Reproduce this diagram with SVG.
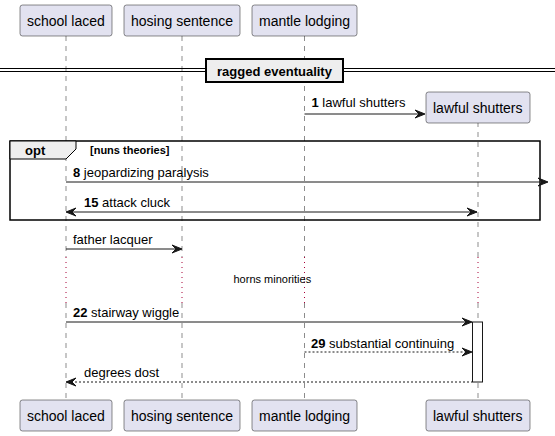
<svg xmlns="http://www.w3.org/2000/svg" width="555" height="436" viewBox="0 0 555 436">
<style>
.part{fill:#E2E2F0;stroke:#181818;stroke-width:0.5}
.ptxt{font-family:"Liberation Sans",Arial,sans-serif;font-size:14px;fill:#000}
.life{stroke:#181818;stroke-width:0.5;stroke-dasharray:5,5;fill:none}
.delay{stroke:#A80036;stroke-width:1;stroke-dasharray:1,4;fill:none}
.msg{stroke:#181818;stroke-width:1;fill:none}
.dash{stroke-dasharray:2,2}
.head{fill:#181818;stroke:#181818;stroke-width:1}
.mtxt{font-family:"Liberation Sans",Arial,sans-serif;font-size:13px;fill:#000}
.b{font-weight:bold}
</style>
<rect width="555" height="436" fill="#FFFFFF"/>
<g id="lifelines">
<path class="life" d="M66,36V257M66,303V400"/>
<path class="life" d="M182,36V257M182,303V400"/>
<path class="life" d="M304.5,36V257M304.5,303V400"/>
<path class="life" d="M478,122V257M478,303V400"/>
<path class="delay" d="M66,257V303M182,257V303M304.5,257V303M478,257V303"/>
</g>
<g id="divider">
<line x1="0" y1="68.5" x2="555" y2="68.5" stroke="#000" stroke-width="1"/>
<line x1="0" y1="71.5" x2="555" y2="71.5" stroke="#000" stroke-width="1"/>
<rect x="206" y="59" width="137" height="23" fill="#EEEEEE" stroke="#000" stroke-width="2"/>
<text x="274.5" y="75.5" text-anchor="middle" class="mtxt b">ragged eventuality</text>
</g>
<g id="frame-opt">
<rect x="10" y="141" width="530" height="79" fill="none" stroke="#000" stroke-width="1.5"/>
<polygon points="10,141 76,141 76,149 66,159 10,159" fill="#EEEEEE" stroke="#000" stroke-width="1"/>
<text x="25" y="155" class="mtxt b">opt</text>
<text x="90" y="154" font-family="'Liberation Sans',Arial,sans-serif" font-size="11" font-weight="bold">[nuns theories]</text>
</g>
<g id="activation">
<rect x="472.5" y="322" width="10" height="60" fill="#FFFFFF" stroke="#181818" stroke-width="1"/>
</g>
<g id="connectors">
<line class="msg" x1="304.5" y1="114" x2="424" y2="114"/>
<polygon class="head" points="415,110 425,114 415,118 419,114"/>
<text x="311.5" y="107" class="mtxt"><tspan class="b">1</tspan> lawful shutters</text>

<line class="msg" x1="66" y1="182" x2="547" y2="182"/>
<polygon class="head" points="538,178 548,182 538,186 542,182"/>
<text x="73" y="177" class="mtxt"><tspan class="b">8</tspan> jeopardizing paralysis</text>

<line class="msg" x1="67" y1="212" x2="477" y2="212"/>
<polygon class="head" points="76,208 66,212 76,216 72,212"/>
<polygon class="head" points="467,208 477,212 467,216 471,212"/>
<text x="84" y="207" class="mtxt"><tspan class="b">15</tspan> attack cluck</text>

<line class="msg" x1="66" y1="249" x2="181" y2="249"/>
<polygon class="head" points="172,245 182,249 172,253 176,249"/>
<text x="73" y="243.5" class="mtxt">father lacquer</text>

<text x="233.5" y="283" font-family="'Liberation Sans',Arial,sans-serif" font-size="11" fill="#000">horns minorities</text>

<line class="msg" x1="66" y1="322" x2="471" y2="322"/>
<polygon class="head" points="462,318 472,322 462,326 466,322"/>
<text x="73" y="317" class="mtxt"><tspan class="b">22</tspan> stairway wiggle</text>

<line class="msg dash" x1="304.5" y1="352" x2="471" y2="352"/>
<polygon class="head" points="462,348 472,352 462,356 466,352"/>
<text x="311" y="347.5" class="mtxt"><tspan class="b">29</tspan> substantial continuing</text>

<line class="msg dash" x1="67" y1="382" x2="472" y2="382"/>
<polygon class="head" points="76,378 66,382 76,386 72,382"/>
<text x="84" y="377" class="mtxt">degrees dost</text>
</g>
<g id="school-laced">
<rect class="part" x="20" y="5" width="92" height="31" rx="2.5"/>
<text class="ptxt" x="27" y="26">school laced</text>
<rect class="part" x="20" y="400" width="92" height="31" rx="2.5"/>
<text class="ptxt" x="27" y="421">school laced</text>
</g>
<g id="hosing-sentence">
<rect class="part" x="124" y="5" width="116" height="31" rx="2.5"/>
<text class="ptxt" x="131" y="26">hosing sentence</text>
<rect class="part" x="124" y="400" width="116" height="31" rx="2.5"/>
<text class="ptxt" x="131" y="421">hosing sentence</text>
</g>
<g id="mantle-lodging">
<rect class="part" x="252" y="5" width="105" height="31" rx="2.5"/>
<text class="ptxt" x="259" y="26">mantle lodging</text>
<rect class="part" x="252" y="400" width="105" height="31" rx="2.5"/>
<text class="ptxt" x="259" y="421">mantle lodging</text>
</g>
<g id="lawful-shutters">
<rect class="part" x="426" y="92" width="104" height="31" rx="2.5"/>
<text class="ptxt" x="433" y="113">lawful shutters</text>
<rect class="part" x="426" y="400" width="104" height="31" rx="2.5"/>
<text class="ptxt" x="433" y="421">lawful shutters</text>
</g>
</svg>
